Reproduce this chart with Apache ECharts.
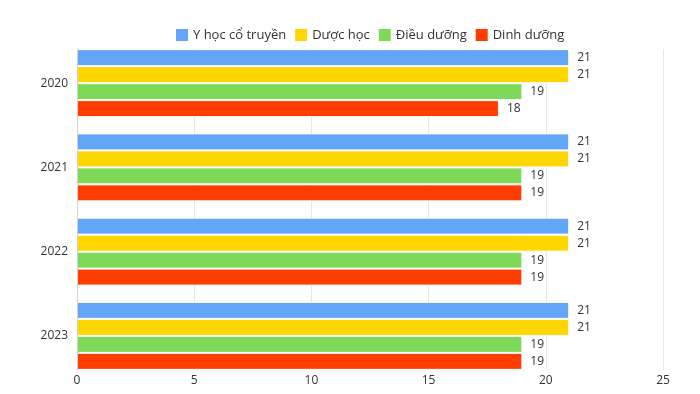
<!DOCTYPE html>
<html><head><meta charset="utf-8">
<script src="https://cdn.jsdelivr.net/npm/echarts@6/dist/echarts.min.js"></script>
<style>html,body{margin:0;padding:0;background:#fff}#c{width:700px;height:394px}</style>
</head><body><div id="c"></div>
<script>
const categories = ['2020', '2021', '2022', '2023'];
const seriesNames = ['Y học cổ truyền', 'Dược học', 'Điều dưỡng', 'Dinh dưỡng'];
const yhoc = [21, 21, 21, 21];
const duoc = [21, 21, 21, 21];
const dieu = [19, 19, 19, 19];
const dinh = [18, 19, 19, 19];
const xTicks = { min: 0, max: 25, interval: 5 };
const colors = ['#63a5f7', '#ffd700', '#7fd958', '#ff3d00'];
const values = [yhoc, duoc, dieu, dinh];
const FONT = '"Open Sans", Lato, sans-serif';
const chart = echarts.init(document.getElementById('c'));
chart.setOption({
  animation: false,
  color: colors,
  textStyle: { fontFamily: FONT },
  legend: {
    top: 22, left: 169,
    itemWidth: 14, itemHeight: 14, itemGap: 7,
    icon: 'rect',
    textStyle: { fontSize: 13, color: '#333', fontFamily: FONT, padding: [0, 0, 0, -1] },
    data: seriesNames
  },
  grid: [
    { left: 77, right: 37, top: 49, bottom: 24 },
    { left: 77, right: 37, top: 41, bottom: 16 }
  ],
  xAxis: [
    {
      gridIndex: 0, type: 'value', min: xTicks.min, max: xTicks.max, interval: xTicks.interval,
      axisLine: { show: false }, axisTick: { show: false },
      splitLine: { show: true, lineStyle: { color: '#e6e6e6' } },
      axisLabel: { color: '#333', fontSize: 12, margin: 5, fontFamily: FONT }
    },
    {
      gridIndex: 1, type: 'value', min: xTicks.min, max: xTicks.max, interval: xTicks.interval,
      show: false
    }
  ],
  yAxis: [
    {
      gridIndex: 0, type: 'category', data: categories, inverse: true, z: 5,
      axisLine: { show: true, lineStyle: { color: '#d0d0d0' } },
      axisTick: { show: false }, axisLabel: { show: false }, splitLine: { show: false }
    },
    {
      gridIndex: 1, type: 'category', data: categories, inverse: true,
      axisLine: { show: false }, axisTick: { show: false }, splitLine: { show: false },
      axisLabel: { color: '#333', fontSize: 12, margin: 9, fontFamily: FONT }
    }
  ],
  series: seriesNames.map((n, i) => ({
    name: n, type: 'bar', data: values[i],
    xAxisIndex: 1, yAxisIndex: 1,
    barGap: '0%', barCategoryGap: '19.3%',
    itemStyle: { color: colors[i], borderColor: '#fff', borderWidth: 1 },
    label: { show: true, position: 'right', distance: 8, color: '#333', fontSize: 12, fontFamily: FONT }
  }))
});
</script></body></html>
